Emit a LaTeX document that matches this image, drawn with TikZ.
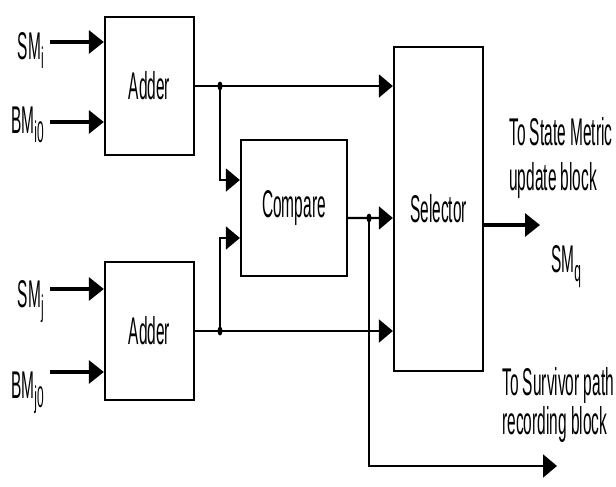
\documentclass[tikz,border=0pt]{standalone}
\usepackage{fontspec}
\setmainfont[FakeStretch=0.4]{Liberation Sans}
\usetikzlibrary{arrows.meta,positioning}
\newcommand{\lowsub}[1]{\raisebox{-0.45ex}{\fontsize{17}{17}\selectfont #1}}

\begin{document}
\begin{tikzpicture}[x=0.02cm,y=-0.02cm,
    lbl/.style={font=\fontsize{22}{26}\selectfont},
    blk/.style={draw,lbl,line width=1.3pt,inner sep=0pt,minimum width=1.78cm,minimum height=2.76cm},
    inp/.style={line width=1.8pt,-{Triangle[length=0.3cm,width=0.46cm]}},
    sig/.style={line width=1.2pt,-{Triangle[length=0.28cm,width=0.46cm]}}]
    \useasboundingbox (0,0) rectangle (616,487);
    % blocks
    \node[blk] (add1) at (149.5,86) {Adder};
    \node[blk] (add2) at (149.5,331) {Adder};
    \node[blk,minimum width=2.12cm,minimum height=2.72cm] (cmp) at (294,208) {Compare};
    \node[blk,minimum height=6.48cm] (sel) at (438.5,209) {Selector};
    % inputs
    \node[lbl,anchor=base east] (smi) at (50,59) {SM\lowsub{i}};
    \node[lbl,anchor=base east] (bmi) at (50,133) {BM\lowsub{i0}};
    \node[lbl,anchor=base east] (smj) at (50,307) {SM\lowsub{j}};
    \node[lbl,anchor=base east] (bmj) at (50,398) {BM\lowsub{j0}};
    \coordinate (ismi) at (50,42);
    \coordinate (ibmi) at (50,122);
    \coordinate (ismj) at (50,289);
    \coordinate (ibmj) at (50,372);
    \draw[inp] (ismi) -- (ismi -| add1.west);
    \draw[inp] (ibmi) -- (ibmi -| add1.west);
    \draw[inp] (ismj) -- (ismj -| add2.west);
    \draw[inp] (ibmj) -- (ibmj -| add2.west);
    % junctions
    \coordinate (j1) at (220,86);
    \coordinate (j2) at (220,331);
    \coordinate (j3) at (369,218);
    \coordinate (smq) at (540,225);
    \coordinate (surv) at (557,466);
    % wires
    \draw[sig] (add1.east) -- (add1.east -| sel.west);
    \draw[sig] (add2.east) -- (add2.east -| sel.west);
    \draw[sig] (j1) |- ([yshift=0.56cm]cmp.west);
    \draw[sig] (j2) |- ([yshift=-0.6cm]cmp.west);
    \draw[sig] ([yshift=-0.2cm]cmp.east) -- (j3 -| sel.west);
    \draw[sig] (j3) |- (surv);
    \draw[inp] (smq -| sel.east) -- (smq);
    \foreach \j in {j1,j2,j3}
        \fill (\j) ellipse [x radius=0.05cm, y radius=0.09cm];
    % outputs
    \node[lbl,anchor=west,align=left,inner sep=0pt,font=\fontsize{22}{25.5}\selectfont] (stm) at (509,158) {To State Metric\\update block};
    \node[lbl,anchor=base west] (smql) at (545,272) {SM\lowsub{q}};
    \node[lbl,anchor=west,align=left,inner sep=0pt,font=\fontsize{22}{22.5}\selectfont] (spr) at (502,405) {To Survivor path\\recording block};
\end{tikzpicture}
\end{document}
